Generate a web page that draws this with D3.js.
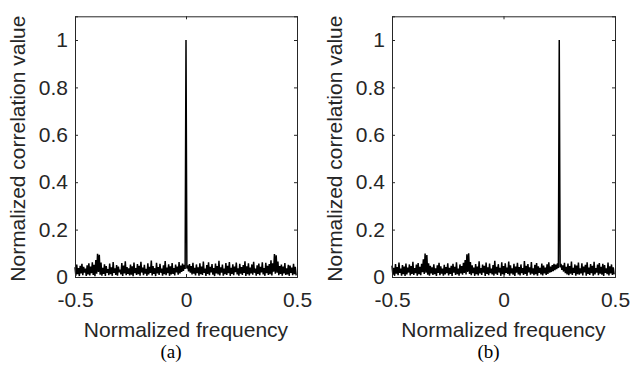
<!DOCTYPE html>
<html><head><meta charset="utf-8">
<script src="https://cdn.jsdelivr.net/npm/d3@7"></script>
<style>body{margin:0;background:#fff}svg{display:block}</style>
</head><body><svg id="c" width="640" height="366"></svg>
<script>
// ---- data ----
const xTicks = [-0.5, 0, 0.5];
const xTickLabels = ["-0.5", "0", "0.5"];
const yTicks = [0, 0.2, 0.4, 0.6, 0.8, 1];
const yTickLabels = ["0", "0.2", "0.4", "0.6", "0.8", "1"];
const xLabel = "Normalized frequency";
const yLabel = "Normalized correlation value";
const panelLabels = ["(a)", "(b)"];
// correlation values, 256 bins from -0.5 to 0.5 (step 1/256)
const corrA = [
.041,.006,.052,.012,.038,.004,.047,.015,.056,.008,.043,.019,.035,.005,.049,.011,
.058,.007,.044,.016,.062,.009,.051,.003,.072,.014,.098,.021,.094,.010,.061,.006,
.039,.013,.054,.004,.046,.018,.033,.008,.057,.012,.041,.005,.063,.017,.037,.009,
.050,.006,.044,.020,.031,.011,.059,.004,.048,.015,.066,.008,.042,.013,.036,.007,
.053,.010,.045,.003,.061,.016,.038,.009,.055,.012,.047,.006,.064,.019,.040,.008,
.051,.014,.034,.005,.058,.011,.043,.017,.069,.007,.046,.013,.037,.004,.060,.015,
.042,.009,.056,.018,.035,.006,.049,.012,.067,.008,.040,.016,.054,.005,.045,.011,
.059,.013,.038,.007,.052,.019,.044,.010,.063,.015,.048,.021,.057,.026,.051,.034,
1,.036,.049,.024,.055,.018,.046,.011,.060,.014,.039,.007,.053,.016,.041,.006,
.058,.012,.044,.009,.065,.017,.036,.005,.050,.013,.062,.008,.043,.019,.055,.010,
.038,.004,.057,.015,.046,.011,.068,.007,.041,.018,.052,.006,.035,.012,.059,.009,
.047,.016,.063,.005,.039,.013,.054,.008,.044,.020,.061,.011,.037,.006,.056,.014,
.042,.009,.050,.017,.066,.004,.045,.012,.058,.007,.040,.015,.053,.010,.064,.018,
.036,.006,.049,.013,.057,.008,.043,.019,.062,.011,.038,.005,.060,.016,.047,.009,
.055,.012,.070,.007,.058,.022,.097,.014,.092,.018,.065,.008,.046,.013,.052,.006,
.044,.015,.059,.009,.037,.011,.051,.005,.048,.017,.040,.008,.056,.012,.043,.007];
const corrB = [
.048,.010,.039,.005,.055,.014,.042,.008,.061,.017,.036,.006,.050,.012,.044,.004,
.057,.011,.040,.019,.053,.007,.046,.013,.064,.009,.038,.016,.052,.005,.059,.012,
.043,.008,.056,.020,.075,.013,.099,.018,.093,.010,.058,.006,.047,.015,.041,.009,
.054,.012,.037,.005,.049,.017,.060,.008,.045,.014,.035,.006,.051,.011,.042,.016,
.058,.007,.039,.013,.047,.004,.056,.018,.043,.009,.062,.012,.036,.006,.053,.015,
.046,.010,.060,.017,.072,.011,.096,.021,.100,.013,.063,.008,.049,.016,.040,.005,
.055,.012,.044,.007,.066,.015,.038,.009,.052,.018,.047,.004,.061,.013,.041,.008,
.057,.016,.035,.011,.050,.006,.068,.014,.043,.009,.054,.019,.039,.005,.062,.012,
.046,.008,.058,.017,.040,.013,.065,.006,.049,.015,.037,.010,.056,.004,.044,.018,
.060,.011,.042,.007,.053,.016,.038,.009,.067,.013,.047,.005,.055,.019,.041,.010,
.063,.014,.036,.008,.051,.012,.059,.006,.045,.017,.039,.011,.057,.007,.048,.015,
.040,.009,.054,.013,.062,.018,.044,.021,.050,.025,.056,.029,.052,.033,.058,.038,
1,.041,.055,.030,.049,.023,.060,.016,.043,.011,.057,.008,.046,.014,.065,.009,
.039,.017,.053,.006,.048,.012,.061,.010,.037,.015,.058,.007,.044,.019,.051,.005,
.062,.013,.040,.009,.055,.016,.047,.006,.064,.011,.038,.018,.052,.008,.059,.014,
.043,.010,.056,.004,.050,.017,.036,.012,.061,.007,.045,.015,.053,.009,.041,.011];
const series = [corrA, corrB];

// ---- drawing ----
const svg = d3.select("#c");
const ink = "#262626";
const panels = [{x0: 75, x1: 297}, {x0: 392, x1: 615}];
const yTop = 16.3, yBot = 277;
const fontAxis = "Liberation Sans, Arial, sans-serif";

panels.forEach((p, k) => {
  const data = series[k];
  const x = d3.scaleLinear().domain([-0.5, 0.5]).range([p.x0, p.x1]);
  const y = d3.scaleLinear().domain([0, 1.1]).range([yBot, yTop]);
  const g = svg.append("g");

  const line = d3.line().x((d, i) => x(-0.5 + i / data.length)).y(d => y(d));
  g.append("path").datum(data).attr("d", line)
    .attr("fill", "none").attr("stroke", "#000").attr("stroke-width", 1.5)
    .attr("stroke-linejoin", "miter");

  const ax = (gen, tr) => {
    const a = g.append("g").attr("transform", tr).call(gen);
    a.select(".domain").attr("stroke", ink).attr("stroke-width", 1);
    a.selectAll(".tick line").attr("stroke", ink);
    a.selectAll("text").attr("fill", ink).attr("font-family", fontAxis).attr("font-size", 21);
    return a;
  };
  ax(d3.axisBottom(x).tickValues(xTicks).tickSize(-3).tickPadding(15)
      .tickFormat((d, i) => xTickLabels[i]), `translate(0,${yBot})`);
  ax(d3.axisTop(x).tickValues(xTicks).tickSize(-3).tickFormat(""), `translate(0,${yTop})`);
  ax(d3.axisLeft(y).tickValues(yTicks).tickSize(-3).tickPadding(7)
      .tickFormat((d, i) => yTickLabels[i]), `translate(${p.x0},0)`);
  ax(d3.axisRight(y).tickValues(yTicks).tickSize(-3).tickFormat(""), `translate(${p.x1},0)`);

  g.append("text").attr("x", (p.x0 + p.x1) / 2).attr("y", 337)
    .attr("text-anchor", "middle").attr("fill", ink)
    .attr("font-family", fontAxis).attr("font-size", 21).text(xLabel);
  g.append("text")
    .attr("transform", `translate(${p.x0 - 50},${(yTop + yBot) / 2 + 2}) rotate(-90)`)
    .attr("text-anchor", "middle").attr("fill", ink)
    .attr("font-family", fontAxis).attr("font-size", 21).text(yLabel);
  g.append("text").attr("x", (p.x0 + p.x1) / 2 - 15).attr("y", 358)
    .attr("text-anchor", "middle").attr("fill", "#000")
    .attr("font-family", "Liberation Serif, Times New Roman, serif").attr("font-size", 19)
    .text(panelLabels[k]);
});
</script></body></html>
